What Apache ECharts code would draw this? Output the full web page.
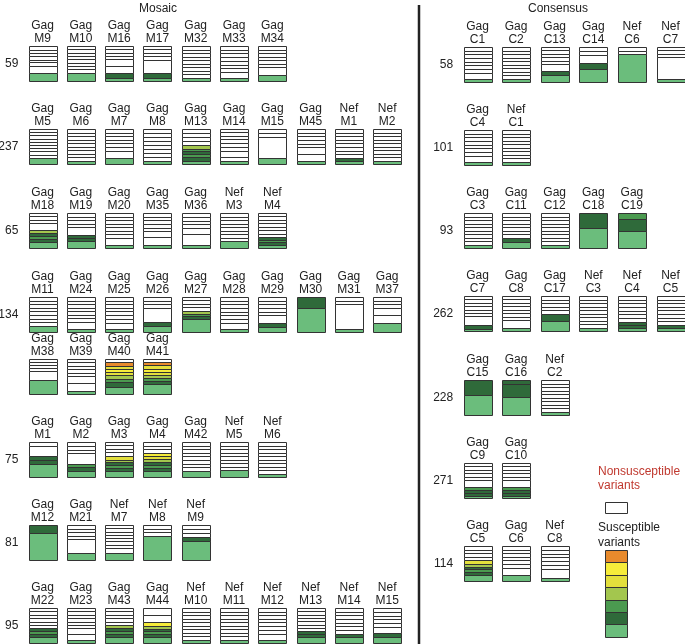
<!DOCTYPE html>
<html><head><meta charset="utf-8">
<script src="https://cdn.jsdelivr.net/npm/echarts@6/dist/echarts.min.js"></script>
<style>html,body{margin:0;padding:0;background:#fff}#c{width:685px;height:644px}</style>
</head><body><div id="c"></div>
<script>
// ---- DATA: box labels and stacked variant segments (bottom -> top), "ColorHeight", "*n" = repeat ----
// L light green, D dark green, G green, Y yellow-green, y yellow, B bright yellow, O orange, W nonsusceptible (white)
const mosaic59Names = ['Gag\nM9','Gag\nM10','Gag\nM16','Gag\nM17','Gag\nM32','Gag\nM33','Gag\nM34'];
const mosaic59Boxes = ['L7.7 W7.3 W4 W2.7 W3.3*3 W4','L7.7 W4 W3.3*7','L3.3 D5 W6.7 W7.3 W3.3*4','L3.3 D5 W13.3 W4 W3.3*3','L3 W3.5*9','L3 W6 W3.7*7','L6 W8 W3.5*6'];

const mosaic237Names = ['Gag\nM5','Gag\nM6','Gag\nM7','Gag\nM8','Gag\nM13','Gag\nM14','Gag\nM15','Gag\nM45','Nef\nM1','Nef\nM2'];
const mosaic237Boxes = ['L6.5 W3.3*9','L3 W3.5*9','L6 W7 W3.5*6','L3 W4*8','L3 D3 G3 D3 G2 Y3 W4 W4 W3.5 W3.5','L3 W4 W6 W5 W4 W3.5*4','L6 W22 W4 W4','L3 W7 W6 W3.5*5','L3 D3 W3.5*8','L3 W3.5*9'];

const mosaic65Names = ['Gag\nM18','Gag\nM19','Gag\nM20','Gag\nM35','Gag\nM36','Nef\nM3','Nef\nM4'];
const mosaic65Boxes = ['L6 D3 G3 D3 Y3 W7 W3.5*3','L7 D3 D3 W8 W3.5*4','L3 W7 W3.5*7','L3 W8 W5 W3.5*5','L3 W10 W5 W3.5*4','L7 W3.5*8','L3 D3 G2 D3 W3.5*7'];

const mosaic134Names = ['Gag\nM11','Gag\nM24','Gag\nM25','Gag\nM26','Gag\nM27','Gag\nM28','Gag\nM29','Gag\nM30','Gag\nM31','Gag\nM37'];
const mosaic134Boxes = ['L6 W3.5*8','L3 W7 W3.5*7','L3 W6 W4 W3.5*6','L6 D4 W14 W3.5*3','L13 D3 G3 Y3 W3.5*4','L3 W6 W3.5*7','L5 D4 W7 W3.5*5','L24 D11','L2.5 W25 W3.5 W3.5','L9 W8 W7 W3.5*3'];

const mosaic134bNames = ['Gag\nM38','Gag\nM39','Gag\nM40','Gag\nM41'];
const mosaic134bBoxes = ['L14 W9 W3*4','L3 W8 W7 W3.5*5','L6 D5 G3 Y3 y3 B3 y3 O3 W3','L9 D3 G3 Y3 y3 B3 y3 O3 W3'];

const mosaic75Names = ['Gag\nM1','Gag\nM2','Gag\nM3','Gag\nM4','Gag\nM42','Nef\nM5','Nef\nM6'];
const mosaic75Boxes = ['L13 D4 D4 W10 W4','L6 D3 G3 W10 W3.5*3','L6 D3 G3 D3 Y3 y4 W3.5*4','L6 D3 G3 D3 Y3 y3 B3 W3.5*3','L6 W3.5*8','L7 W3.5*8','L3 W3.5*9'];

const mosaic81Names = ['Gag\nM12','Gag\nM21','Nef\nM7','Nef\nM8','Nef\nM9'];
const mosaic81Boxes = ['L28 D8','L7 W13 W3.5*4','L7 W6 W3.5*7','L24 W3.5*3','L20 D4 W4 W4 W4'];

const mosaic95Names = ['Gag\nM22','Gag\nM23','Gag\nM43','Gag\nM44','Nef\nM10','Nef\nM11','Nef\nM12','Nef\nM13','Nef\nM14','Nef\nM15'];
const mosaic95Boxes = ['L6 D3 G3 D3 W3.5*6','L3 W6 W6 W3.5*6','L6 D3 G3 D3 Y3 W3.5*5','L6 D3 G3 D2 Y3 B4 W7 W7','L3 W3.5*9','L3 W3.5*9','L3 W6 W4 W3.5*6','L6 D3 D3 W3.5*7','L6 D3 W3.5*7','L6 D3 W6 W3.5*5'];

const cons58Names = ['Gag\nC1','Gag\nC2','Gag\nC13','Gag\nC14','Nef\nC6','Nef\nC7'];
const cons58Boxes = ['L3 W6 W3.5*7','L3 W3.5*9','L7 D4 W7 W3.5*5','L13 D5 W8 W4 W4','L28 W3.5 W3.5','L3 W22 W3.5*3'];

const cons101Names = ['Gag\nC4','Nef\nC1'];
const cons101Boxes = ['L3 W6 W3.5*7','L3 W3.5*9'];

const cons93Names = ['Gag\nC3','Gag\nC11','Gag\nC12','Gag\nC18','Gag\nC19'];
const cons93Boxes = ['L3 W3.5*9','L6 D4 W3.5*7','L3 W3.5*9','L21 D15','L17 D12 G6'];

const cons262Names = ['Gag\nC7','Gag\nC8','Gag\nC17','Nef\nC3','Nef\nC4','Nef\nC5'];
const cons262Boxes = ['L2 D4 W9 W3.5*6','L3 W8 W3.5*7','L10 D7 W3.5*5','L3 W3.5*9','L3 D3 D3 W3.5*7','L3 D3 W3.5*8'];

const cons228Names = ['Gag\nC15','Gag\nC16','Nef\nC2'];
const cons228Boxes = ['L20 D15','L18 D13 D4','L3 W3.5*9'];

const cons271Names = ['Gag\nC9','Gag\nC10'];
const cons271Boxes = ['L2 D3 D3 G3 W7 W3.5*5','L2 D3 D3 G3 W7 W3.5*5'];

const cons114Names = ['Gag\nC5','Gag\nC6','Nef\nC8'];
const cons114Boxes = ['L6 D3 G3 D2 Y3 y3 W3.5*4','L6 W7 W4 W3.5*5','L3 W8 W4 W3.5*5'];

const legendColors = ['O','B','y','Y','G','D','L']; // top -> bottom

// ---- STYLE / LAYOUT ----
const COLORS = {W:'#ffffff', L:'#6bbd7c', D:'#2f6a3a', G:'#4b9a50', Y:'#a3c64e', y:'#e3df3c', B:'#f6ec3a', O:'#e88a2c'};
const CODES = Object.keys(COLORS);
const FONT = '"Liberation Sans", Arial, Helvetica, sans-serif';
const MX = 23.35, MP = 38.3, CX = 458.2, CP = 38.6, BH = 35, BW = 28;
const groups = [
  {label:'59',  names:mosaic59Names,  boxes:mosaic59Boxes,  left:MX, pitch:MP, top:46},
  {label:'237', names:mosaic237Names, boxes:mosaic237Boxes, left:MX, pitch:MP, top:129},
  {label:'65',  names:mosaic65Names,  boxes:mosaic65Boxes,  left:MX, pitch:MP, top:213},
  {label:'134', names:mosaic134Names, boxes:mosaic134Boxes, left:MX, pitch:MP, top:297},
  {label:'',    names:mosaic134bNames,boxes:mosaic134bBoxes,left:MX, pitch:MP, top:359},
  {label:'75',  names:mosaic75Names,  boxes:mosaic75Boxes,  left:MX, pitch:MP, top:442},
  {label:'81',  names:mosaic81Names,  boxes:mosaic81Boxes,  left:MX, pitch:MP, top:525},
  {label:'95',  names:mosaic95Names,  boxes:mosaic95Boxes,  left:MX, pitch:MP, top:608},
  {label:'58',  names:cons58Names,    boxes:cons58Boxes,    left:CX, pitch:CP, top:47},
  {label:'101', names:cons101Names,   boxes:cons101Boxes,   left:CX, pitch:CP, top:130},
  {label:'93',  names:cons93Names,    boxes:cons93Boxes,    left:CX, pitch:CP, top:213},
  {label:'262', names:cons262Names,   boxes:cons262Boxes,   left:CX, pitch:CP, top:296},
  {label:'228', names:cons228Names,   boxes:cons228Boxes,   left:CX, pitch:CP, top:380},
  {label:'271', names:cons271Names,   boxes:cons271Boxes,   left:CX, pitch:CP, top:463},
  {label:'114', names:cons114Names,   boxes:cons114Boxes,   left:CX, pitch:CP, top:546}
];

function parseBox(s){
  const segs = [];
  s.trim().split(/\s+/).forEach(tok => {
    const m = tok.match(/^([A-Za-z])([\d.]+)(?:\*(\d+))?$/);
    const n = m[3] ? +m[3] : 1;
    for (let i=0;i<n;i++) segs.push({c:m[1], h:+m[2]});
  });
  const sum = segs.reduce((a,b)=>a+b.h,0);
  let acc = 0;
  segs.forEach(s => { s.start = acc/sum*100; acc += s.h; s.end = acc/sum*100; });
  return segs;
}

function renderSeg(params, api){
  const cat = api.value(0);
  const p0 = api.coord([cat, api.value(1)]);
  const p1 = api.coord([cat, api.value(2)]);
  const x = Math.round(p0[0] - BW/2) + 0.5;
  const yTop = Math.round(p1[1]) + 0.5;
  const yBot = Math.round(p0[1]) + 0.5;
  return {type:'rect', shape:{x:x, y:yTop, width:BW, height:Math.max(0, yBot-yTop)},
    style:{fill:COLORS[CODES[api.value(3)]], stroke:'#333', lineWidth:1}};
}

const grid=[], xAxis=[], yAxis=[], series=[];
groups.forEach((g, gi) => {
  const parsed = g.boxes.map(parseBox);
  grid.push({left:g.left, top:g.top, width:g.names.length*g.pitch, height:BH, containLabel:false, outerBoundsMode:'none'});
  xAxis.push({type:'category', gridIndex:gi, position:'top', data:g.names,
    axisLine:{show:false}, axisTick:{show:false}, splitLine:{show:false},
    axisLabel:{interval:0, margin:1, fontSize:12, lineHeight:13, color:'#222', fontFamily:FONT}});
  yAxis.push({type:'value', gridIndex:gi, min:0, max:100,
    axisLine:{show:false}, axisTick:{show:false}, axisLabel:{show:false}, splitLine:{show:false},
    name:g.label, nameLocation:'middle', nameRotate:0, nameGap:5,
    nameTextStyle:{fontSize:12, color:'#222', align:'right', verticalAlign:'middle', fontFamily:FONT}});
  const data = [];
  parsed.forEach((segs, i) => segs.forEach(s => data.push([i, s.start, s.end, CODES.indexOf(s.c)])));
  series.push({type:'custom', xAxisIndex:gi, yAxisIndex:gi, silent:true, animation:false,
    renderItem:renderSeg, encode:{x:0, y:[1,2]}, data:data});
});

const graphic = [
  {type:'text', left:158-19, top:3, style:{text:'Mosaic', font:'12px '+FONT, fill:'#222'}},
  {type:'text', left:555-27, top:3, style:{text:'Consensus', font:'12px '+FONT, fill:'#222'}},
  {type:'line', shape:{x1:419, y1:5, x2:419, y2:644}, style:{stroke:'#222', lineWidth:2.5}},
  {type:'text', left:598, top:465, style:{text:'Nonsusceptible\nvariants', font:'12px '+FONT, fill:'#c0392f', lineHeight:14}},
  {type:'rect', shape:{x:605.5, y:502.5, width:22, height:11}, style:{fill:'#fff', stroke:'#333', lineWidth:1}},
  {type:'text', left:598, top:520, style:{text:'Susceptible\nvariants', font:'12px '+FONT, fill:'#222', lineHeight:15}}
];
legendColors.forEach((c,i) => {
  graphic.push({type:'rect', shape:{x:605.5, y:550.5+Math.round(i*12.4), width:22, height:Math.round((i+1)*12.4)-Math.round(i*12.4)}, style:{fill:COLORS[c], stroke:'#333', lineWidth:1}});
});

const chart = echarts.init(document.getElementById('c'), null, {renderer:'canvas'});
chart.setOption({animation:false, textStyle:{fontFamily:FONT}, grid, xAxis, yAxis, series, graphic});
</script>
</body></html>
